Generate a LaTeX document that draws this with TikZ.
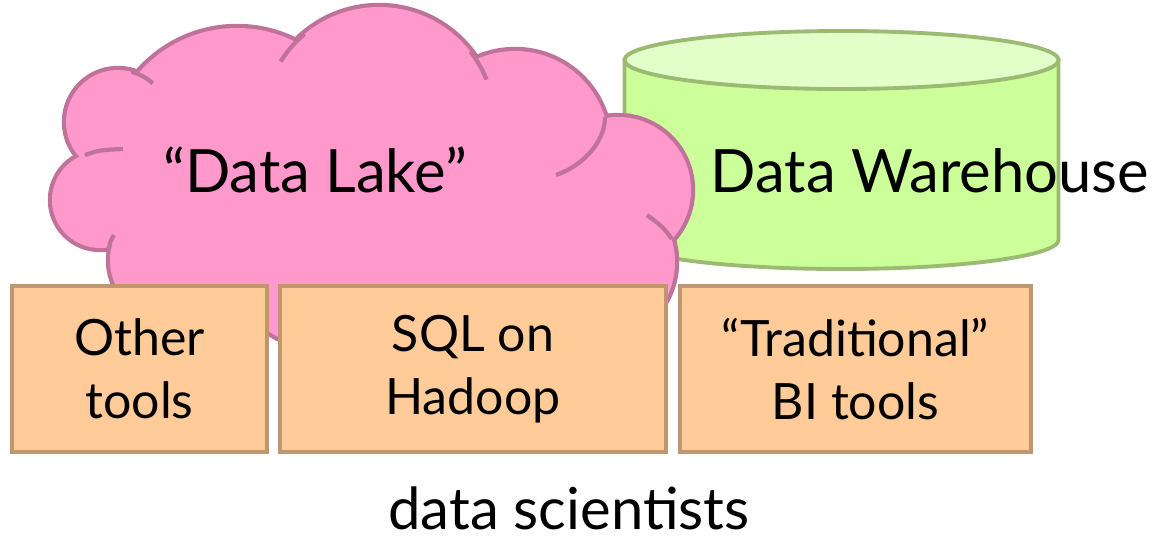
\documentclass[tikz,border=0pt]{standalone}
\usepackage{fontspec}
\setmainfont{Lato}

\definecolor{lakefill}{HTML}{FF99CC}
\definecolor{lakeline}{HTML}{BF7399}
\definecolor{dwside}{HTML}{CCFF99}
\definecolor{dwtop}{HTML}{E2FFCA}
\definecolor{dwline}{HTML}{9BBB73}
\definecolor{toolfill}{HTML}{FFCC99}
\definecolor{toolline}{HTML}{C0966E}

\tikzset{
  toolbox/.style={draw=toolline, fill=toolfill, line width=2.2pt, minimum height=3.32cm,
    align=center, font=\fontsize{28.5}{35.7}\selectfont},
  bigtext/.style={anchor=base, font=\fontsize{34}{40}\selectfont},
  tail/.style={lakeline, line width=2.4pt},
}

\newcommand{\lakepuffs}{118/417/52, 100/339/48, 237/381/130, 379/416/116, 515/394/94,
  618/349/73, 595/277/80, 330/299/110, 170/279/60, 470/289/90}

\begin{document}
\begin{tikzpicture}[x=0.02cm, y=0.02cm]
\useasboundingbox (0,0) rectangle (1153,539);

% warehouse
\filldraw[dwline, fill=dwside, line width=2.2pt] (624.5,479) -- (624.5,299)
  arc[start angle=180, end angle=360, x radius=217, y radius=29] -- (1058.5,479) -- cycle;
\filldraw[dwline, fill=dwtop, line width=2.2pt] (841.5,479) ellipse[x radius=217, y radius=29];

% lake
\foreach \cx/\cy/\r in \lakepuffs
  \filldraw[lakeline, fill=lakefill, line width=4.8pt] (\cx,\cy) circle[radius=\r];
\foreach \cx/\cy/\r in \lakepuffs
  \fill[lakefill] (\cx,\cy) circle[radius=\r];

\draw[tail] (118,417) ++(75:52) arc[start angle=75, end angle=48, radius=52];
\draw[tail] (379,416) ++(130:116) arc[start angle=130, end angle=148, radius=116];
\draw[tail] (379,416) ++(38:116) arc[start angle=38, end angle=22, radius=116];
\draw[tail] (605,422) .. controls (605,395) and (580,372) .. (556,364);
\draw[tail] (672,300) .. controls (663,312) .. (647,324);
\draw[tail] (85,384) .. controls (100,389) .. (123,390);
\draw[tail] (109,290) .. controls (110,297) .. (114,304);

\node[bigtext] (lake) at (315,347) {“Data Lake”};
\node[bigtext] (warehouse) at (930,347) {Data Warehouse};

% tools
\node[toolbox, minimum width=5.1cm] (other) at (139.5,170) {Other\\tools};
\node[toolbox, minimum width=7.72cm] (sqlhadoop) at (473,170) {SQL on\\Hadoop};
\node[toolbox, minimum width=7.02cm] (bitools) at (855.5,170) {“Traditional”\\BI tools};

\node[anchor=base, inner sep=0pt, font=\fontsize{33}{39}\selectfont] (scientists) at (569,10) {data scientists};

\end{tikzpicture}
\end{document}
